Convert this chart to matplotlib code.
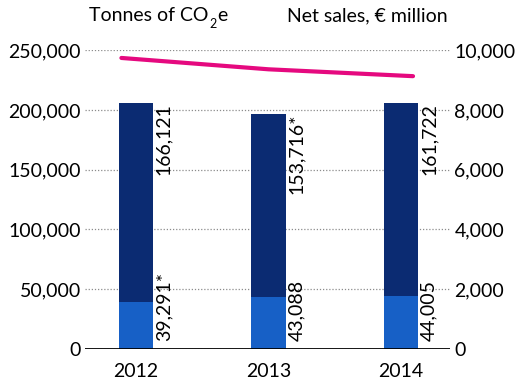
import matplotlib
matplotlib.use("Agg")
from matplotlib import pyplot as plt

plt.rcParams["font.family"] = ["Lato", "DejaVu Sans"]

years = ["2012", "2013", "2014"]
scope_low = [39291, 43088, 44005]
scope_high = [166121, 153716, 161722]
low_labels = ["39,291*", "43,088", "44,005"]
high_labels = ["166,121", "153,716*", "161,722"]
net_sales = [9740, 9360, 9130]

navy = "#0b2b72"
blue = "#1760c6"
pink = "#e5097f"
fs = 14

fig = plt.figure(figsize=(5.18, 3.86), dpi=100)
ax = fig.add_axes([0.164, 0.096, 0.705, 0.774])
ax2 = ax.twinx()

x = list(range(len(years)))
w = 0.26
ax.bar(x, scope_low, width=w, color=blue, zorder=3)
ax.bar(x, scope_high, width=w, bottom=scope_low, color=navy, zorder=3)

for i in x:
    total = scope_low[i] + scope_high[i]
    ax.annotate(high_labels[i], (i + w / 2, total), xytext=(1.5, 0),
                textcoords="offset points", rotation=90, ha="left", va="top",
                fontsize=fs, zorder=4)
    ax.annotate(low_labels[i], (i + w / 2, 0), xytext=(1.5, 6),
                textcoords="offset points", rotation=90, ha="left", va="bottom",
                fontsize=fs, zorder=4)

# net sales line runs from the left edge of the first bar to the last bar's edge
line_x = [x[0] - w / 2 + 0.02, x[1], x[2] + w / 2 - 0.04]
ax2.plot(line_x, net_sales, color=pink, lw=3, solid_capstyle="round", zorder=5)

ax.set_xlim(-0.385, 2.37)
ax.set_ylim(0, 250000)
ax2.set_ylim(0, 10000)
ax.set_yticks(range(0, 250001, 50000))
ax2.set_yticks(range(0, 10001, 2000))
ax.set_yticklabels([f"{v:,}" for v in range(0, 250001, 50000)])
ax2.set_yticklabels([f"{v:,}" for v in range(0, 10001, 2000)])
ax.set_xticks(x)
ax.set_xticklabels(years)

for a in (ax, ax2):
    for s in a.spines.values():
        s.set_visible(False)
    a.tick_params(length=0, labelsize=fs, pad=3)
ax.tick_params(axis="x", pad=10)

ax.set_axisbelow(True)
ax.grid(axis="y", color="#8c8c8c", lw=0.9, ls=(0, (1, 1.5)))
ax.axhline(0, color="black", lw=2, zorder=4)

# axis titles; the subscript 2 is a separate smaller text chained after "CO"
t1 = fig.text(0.172, 0.945, "Tonnes of CO", fontsize=fs, ha="left", va="baseline")
ax.annotate("2", xy=(1, 0), xycoords=t1, xytext=(0.5, -4),
            textcoords="offset points", fontsize=9, ha="left", va="bottom",
            annotation_clip=False)
ax.annotate("e", xy=(1, 0), xycoords=t1, xytext=(6, 0),
            textcoords="offset points", fontsize=fs, ha="left", va="bottom",
            annotation_clip=False)
fig.text(0.865, 0.945, "Net sales, € million", fontsize=fs, ha="right", va="baseline")

fig.savefig("out.png", dpi=100)
